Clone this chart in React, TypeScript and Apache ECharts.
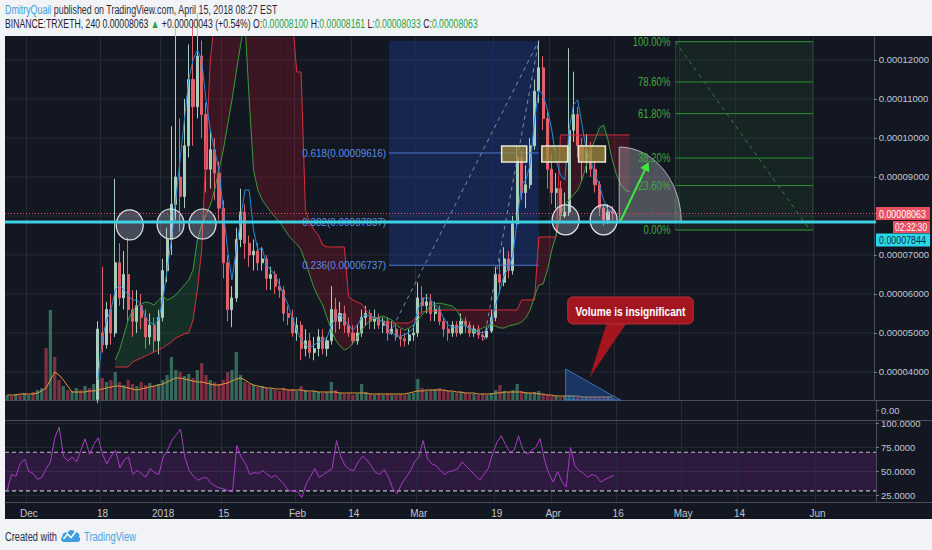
import React, { useEffect, useRef } from 'react';
import * as echarts from 'echarts';

// ---------- categories & ticks ----------
const DAY_COUNT = 201; // 2017-11-26 .. 2018-06-13
const DAY_MS = 86400000;
const T0 = Date.UTC(2017, 10, 26);
const categories: string[] = Array.from({ length: DAY_COUNT }, (_, i) => new Date(T0 + i * DAY_MS).toISOString().slice(0, 10));

const tickDates = ['2017-12-01', '2017-12-18', '2018-01-01', '2018-01-15', '2018-02-01', '2018-02-14', '2018-03-01', '2018-03-19', '2018-04-01', '2018-04-16', '2018-05-01', '2018-05-14', '2018-06-01'];
const tickLabels = ['Dec', '18', '2018', '15', 'Feb', '14', 'Mar', '19', 'Apr', '16', 'May', '14', 'Jun'];
const priceGridTicks = [4000, 5000, 6000, 7000, 8000, 9000, 10000, 11000, 12000]; // 1e-8 ETH
const priceLabelTicks = [4000, 5000, 6000, 7000, 9000, 10000, 11000, 12000]; // 8000 hidden under last-price tag
const rsiTicks = [25, 50, 75, 100];

// ---------- price data (units of 1e-8 ETH), [open, close, low, high] ----------
const CANDLE_START = '2017-12-17';
const candles: number[][] = [
  // Dec 17 - 31
  [3300, 5100, 3200, 5300], [5000, 4700, 4500, 6700], [4700, 5600, 4600, 5800], [5600, 5000, 4700, 6000],
  [5000, 6800, 4900, 8950], [6800, 5900, 5700, 7300], [5900, 6500, 5600, 7100], [6500, 5600, 5300, 7450],
  [5600, 5300, 4900, 6100], [5300, 5700, 5000, 6100], [5700, 5400, 5100, 6000], [5400, 4900, 4600, 5600],
  [4900, 5200, 4700, 5500], [5200, 4800, 4500, 5400], [4800, 5400, 4450, 5600],
  // Jan
  [5400, 6600, 5300, 6900], [6600, 7400, 6300, 7700], [7400, 8300, 7000, 10300], [8300, 9000, 7900, 12900],
  [9000, 8500, 7600, 10500], [8500, 9800, 8200, 11000], [9800, 11500, 9500, 12400], [11500, 10800, 9800, 13000],
  [10800, 12100, 10500, 13200], [12100, 10600, 10000, 12500], [10600, 9200, 8600, 10900], [9200, 9700, 8700, 10200],
  [9700, 9100, 8400, 10000], [9100, 8200, 7900, 9400], [8200, 6800, 6400, 8400], [6800, 5600, 5300, 7000],
  [5600, 5900, 5150, 6200], [5900, 7400, 5800, 7700], [7400, 8100, 7200, 8700], [8100, 7300, 6900, 8300],
  [7300, 7000, 6700, 7500], [7000, 7100, 6600, 7400], [7100, 6800, 6600, 7300], [6800, 6900, 6600, 7200],
  [6900, 6400, 6100, 7000], [6400, 6500, 6100, 6700], [6500, 6200, 6000, 6600], [6200, 6100, 5900, 6400],
  [6100, 5500, 5300, 6200], [5500, 5400, 5200, 5700], [5400, 5000, 4900, 5600],
  // Feb
  [5000, 5200, 4800, 5400], [5200, 4600, 4300, 5300], [4600, 4800, 4400, 5100], [4800, 4500, 4350, 5000],
  [4500, 4600, 4300, 4900], [4600, 4900, 4400, 5100], [4900, 4600, 4450, 5100], [4600, 4800, 4400, 4900],
  [4800, 5600, 4700, 6200], [5600, 5300, 5000, 5900], [5300, 5500, 5100, 5800], [5500, 5200, 5000, 5700],
  [5200, 5000, 4900, 5400], [5000, 4800, 4700, 5200], [4800, 5000, 4700, 5200], [5000, 5400, 4900, 5600],
  [5400, 5500, 5200, 5700], [5500, 5300, 5100, 5600], [5300, 5400, 5100, 5600], [5400, 5200, 5100, 5500],
  [5200, 5300, 5000, 5400], [5300, 5000, 4800, 5400], [5000, 5100, 4958, 5300], [5100, 4900, 4800, 5200],
  [4900, 4850, 4650, 5100], [4850, 4800, 4650, 5000], [4800, 4950, 4700, 5100], [4950, 5000, 4800, 5200],
  // Mar
  [5000, 5900, 4900, 6300], [5900, 5700, 5500, 6200], [5700, 5800, 5500, 6000], [5800, 5500, 5300, 6000],
  [5500, 5600, 5300, 5800], [5600, 5300, 5200, 5700], [5300, 5100, 4900, 5400], [5100, 5000, 4800, 5300],
  [5000, 5200, 4900, 5300], [5200, 5000, 4900, 5300], [5000, 5300, 4950, 5500], [5300, 5200, 5000, 5400],
  [5200, 5000, 4900, 5300], [5000, 5100, 4900, 5200], [5100, 4950, 4850, 5200], [4950, 4900, 4800, 5050],
  [4900, 5050, 4850, 5150], [5050, 5400, 5000, 5600], [5400, 6500, 5300, 6700], [6500, 6300, 6000, 6900],
  [6300, 6900, 6200, 7200], [6900, 6600, 6400, 7100], [6600, 7800, 6500, 8000], [7800, 9500, 7700, 9800],
  [9500, 8600, 8400, 9700], [8600, 8800, 8200, 9300], [8800, 9800, 8700, 10000], [9800, 11200, 9700, 11500],
  [11200, 11800, 10900, 12495], [11800, 10500, 10200, 12100], [10500, 9200, 8700, 10700],
  // Apr 1 - 15
  [9200, 8600, 8300, 9600], [8600, 8700, 8200, 9100], [8700, 8000, 7900, 8900], [8000, 8100, 7950, 8600],
  [8100, 10200, 8000, 12300], [10200, 10600, 9900, 11700], [10600, 9800, 9500, 10800], [9800, 9400, 8900, 10000],
  [9400, 9700, 9100, 10100], [9700, 9200, 9000, 9900], [9200, 8800, 8600, 9400], [8800, 8200, 8000, 8900],
  [8200, 7900, 7750, 8300], [7900, 8100, 7800, 8300], [8100, 8063, 7900, 8250],
];

// ---------- volume (arbitrary units, from 2017-11-26) ----------
const volumes = [
  5, 4, 6, 5, 7,
  5, 8, 10, 12, 52, 90, 43, 20, 14, 10,
  9, 12, 10, 14, 12, 16, 30, 22, 18, 20,
  28, 18, 15, 20, 16, 14, 18, 15, 17, 14, 16,
  20, 25, 43, 30, 28, 24, 26, 22, 30, 37,
  25, 20, 18, 16, 20, 28, 30, 48, 25, 18,
  16, 15, 13, 14, 12, 11, 10, 9, 12, 10, 11,
  9, 14, 10, 8, 9, 8, 7, 8, 18, 10,
  7, 6, 6, 5, 6, 16, 8, 6, 5, 6,
  5, 6, 5, 5, 6, 5, 6, 7,
  21, 12, 9, 10, 11, 12, 10, 9, 8, 7,
  8, 7, 6, 6, 5, 6, 5, 7, 10, 15,
  9, 8, 10, 16, 9, 8, 7, 8, 9, 6, 5,
  4, 4, 3, 4, 5, 4, 3, 3, 3, 3, 3, 3, 3, 3, 2,
];
const preVolumeUp = [1, 0, 1, 0, 1, 1, 0, 1, 1, 0, 1, 0, 0, 1, 0, 1, 1, 0, 1, 0, 1];
const volumeMA = [
  5, 5, 5, 6, 6,
  6, 6, 7, 9, 12, 20, 28, 25, 20, 14,
  8, 8, 8, 8, 9, 9, 10, 11, 12, 13,
  14, 14, 13, 12, 11, 10, 11, 12, 13, 14, 15,
  16, 18, 20, 22, 22, 21, 20, 19, 18, 18,
  17, 16, 15, 15, 16, 17, 19, 21, 22, 20,
  17, 15, 14, 13, 12, 12, 11, 11, 11, 10, 10,
  10, 10, 9, 9, 9, 8, 8, 8, 8, 8,
  7, 7, 7, 7, 7, 7, 7, 6, 6, 6,
  6, 6, 6, 6, 6, 6, 7, 8,
  9, 9, 10, 10, 10, 10, 10, 9, 9, 8,
  8, 7, 7, 7, 6, 6, 6, 6, 7, 7,
  8, 8, 8, 8, 8, 7, 7, 7, 6, 6, 5,
  5, 4, 4, 4, 4, 4, 4, 3, 3, 3, 3, 3, 3, 3, 3,
];

// ---------- RSI (from 2017-11-26) ----------
const rsi = [
  30, 47, 45, 58, 63,
  50, 48, 42, 44, 53, 60, 85, 96, 66, 61,
  65, 60, 72, 84, 68, 78, 85, 68, 58, 66,
  72, 54, 62, 65, 47, 51, 48, 44, 53, 49, 47,
  65, 72, 82, 88, 94, 65, 51, 45, 41, 43,
  44, 38, 35, 33, 32, 30, 29, 77, 65, 58,
  47, 49, 48, 51, 47, 44, 46, 41, 36, 30, 30,
  29, 23, 37, 45, 53, 44, 47, 50, 53, 82,
  65, 56, 52, 51, 60, 66, 62, 56, 49, 47,
  52, 44, 32, 27, 37, 44, 50, 60,
  65, 82, 63, 58, 56, 51, 47, 50, 51, 53,
  60, 55, 51, 46, 41, 47, 53, 68, 80, 87,
  78, 70, 72, 87, 73, 68, 72, 75, 84, 62, 48,
  39, 50, 40, 34, 75, 56, 51, 48, 44, 47, 45, 39, 42, 44, 46,
];

// ---------- Ichimoku-style lines (1e-8 ETH) ----------
const CLOUD_START = '2017-12-21';
const leadA = [
  4308, 4564, 4949, 5333, 5590, 5692, 5744, 5795, 5769, 5718, 5846,
  5948, 5846, 5897, 5974, 6102, 6231, 6359, 6615, 7385, 7769, 8025, 8282, 8666, 9179, 9692, 10333, 10974, 11692, 12385, 13025,
  10974, 9179, 8666, 8410, 8256, 8102, 7974, 7846, 7692, 7513, 7385,
  7282, 7128, 6820, 6487, 6154, 5923, 5718, 5385, 5077, 4820, 4667, 4564, 4615, 4743, 4872, 5077, 5205, 5333, 5385, 5410,
  5436, 5385, 5333, 5205, 5128, 5077, 5128, 5205,
  5333, 5462, 5590, 5692, 5744, 5769, 5744, 5718, 5692, 5590, 5385, 5205, 5077, 5026, 5077, 5128, 5180, 5205, 5180, 5128,
  5128, 5180, 5205, 5231, 5282, 5385, 5590, 5948, 6231, 6256, 6615,
  7128, 7513, 8025, 8282, 8410, 8538, 8666, 8923, 9307, 9692, 9948, 10256, 10333, 9948, 9436, 9051, 8795, 8666, 8615,
];
const leadB = [
  4128, 4128, 4128, 4128, 4256, 4308, 4359, 4410, 4461, 4513, 4564,
  4615, 4692, 4769, 4872, 4923, 4974, 5000, 5333, 6102, 7128, 9692, 12000,
  13025, 13025, 13025, 13025, 13025, 13025, 13025, 13025, 13025, 13025, 13025, 13025, 13025, 13025, 13025, 13025, 13025, 13025, 13025,
  11692, 11692, 8154, 7846, 7641, 7513, 7256, 7205, 7205, 7205, 7205, 7205,
  5923, 5846, 5795, 5744, 5590, 5462, 5385, 5333, 5282, 5256, 5256, 5256, 5256, 5256, 5256, 5333,
  5462, 5539, 5564, 5564, 5564, 5564,
  5590, 5590, 5590, 5590, 5590, 5590, 5590, 5590, 5590, 5590, 5590, 5590, 5590, 5590, 5590, 5590, 5590, 5590,
  5846, 5846, 5846, 5846, 7461, 7461, 7461, 7461, 7461,
  10077, 10077, 10077, 10077, 10077, 10077, 10077, 10077, 10077, 10077, 10077, 10077, 10077, 10077, 10077, 10077, 10077,
];
const CONV_START = '2017-12-17';
const conversion = [
  3795, 4820, 5333, 5590, 6102, 6231, 6102, 5974, 5846, 5846, 5718, 5385, 5282, 5205, 5333,
  5846, 6615, 7385, 8410, 9436, 10462, 11487, 12000, 12256, 12000, 10974, 10205, 9692, 9179, 8154, 7128,
  6359, 7128, 7897, 8666, 8666, 7641, 7128, 7179, 6744, 6615, 6487, 6231, 5974, 5718, 5385,
  5077, 4820, 4692, 4615, 4692, 4769, 4820, 4872, 5205, 5385, 5462, 5333, 5205, 5077, 5205, 5385,
  5462, 5436, 5385, 5333, 5282, 5128, 5000, 4923, 4923, 4949, 5026, 5128,
  5590, 5846, 5923, 5846, 5718, 5590, 5385, 5205, 5154, 5128, 5205, 5180, 5128, 5077, 5026, 5000,
  5077, 5282, 5718, 6102, 6487, 6667, 7000, 7897, 8795, 8923, 9307, 10462, 11231, 11102, 10718,
  10205, 9436, 9051, 8923, 10205, 10846, 10974, 10333, 9692, 9436, 9051, 8795, 8410, 8154, 8102,
];

// ---------- levels & annotations (day index from 2017-11-26, price in 1e-8) ----------
const lastPrice = 8063;
const supportLevel = 7844;
const fibLow = 4958;
const fibHigh = 12495;
const fibLevels = [0.236, 0.382, 0.618];
const fibSpan = [88.35, 123];
const fibExtLow = 7640;
const fibExtHigh = 12470;
const fibExtLevels = [0, 0.236, 0.382, 0.618, 0.786, 1];
const fibExtSpan = [154.6, 186.4];
const circledLows = [[28.35, 7770], [37.8, 7795], [45.2, 7795], [129.2, 7900], [138, 7900]];
const resistanceBoxes = [[114.4, 120.2], [123.7, 129.7], [132.2, 138.4]];
const resistanceBand = [9385, 9795];

const FONT = "'Liberation Sans', Arial, sans-serif";
const BG = '#131722';
const GRID_C = '#262b38';
const SEP_C = '#4a4e5a';
const TXT_C = '#c3c6ce';
const UP = '#a9cdbb';
const DOWN = '#e0606c';

const idxOf = (d: string) => categories.indexOf(d);
const tickSet = new Set(tickDates);
const tickMap: Record<string, string> = {};
tickDates.forEach((d, i) => { tickMap[d] = tickLabels[i]; });

echarts.graphic.registerShape(
  'tvCloud',
  echarts.graphic.extendPath('M4 15 C1 15 0 11 2.5 9.5 C2 6 5.5 4.5 7.5 6 C8.5 2.5 13.5 1.5 15 5.5 C18 4.5 20.5 7.5 19 10 C21 11 20.5 15 17.5 15 Z', {})
);

let measureCtx: CanvasRenderingContext2D | null = null;
function measure(s: string, font: string) {
  if (!measureCtx) measureCtx = document.createElement('canvas').getContext('2d');
  if (!measureCtx) return s.length * 6;
  measureCtx.font = font;
  return measureCtx.measureText(s).width;
}

function xAxisFor(gridIndex: number, showLabel: boolean) {
  return {
    type: 'category',
    gridIndex,
    data: categories,
    boundaryGap: true,
    axisLine: { show: showLabel, lineStyle: { color: SEP_C } },
    axisTick: { show: false },
    splitLine: { show: true, interval: (_i: number, v: string) => tickSet.has(v), lineStyle: { color: GRID_C, width: 1 } },
    axisLabel: {
      show: showLabel,
      interval: (_i: number, v: string) => tickSet.has(v),
      formatter: (v: string) => tickMap[v] || '',
      color: TXT_C,
      fontSize: 10,
      fontFamily: FONT,
      margin: 6,
    },
  };
}

const sideAxisLabel = { color: TXT_C, fontSize: 9.5, fontFamily: FONT, margin: 5 };

function buildOption() {
  const cStart = idxOf(CANDLE_START);
  const clStart = idxOf(CLOUD_START);
  const cvStart = idxOf(CONV_START);
  const cloudData = leadA.slice(0, -1).map((a, k) => [clStart + k, a, leadB[k], leadA[k + 1], leadB[k + 1]]);
  const volData = volumes.map((v, i) => {
    const c = candles[i - cStart];
    const up = c ? c[1] >= c[0] : preVolumeUp[i] === 1;
    return { value: v, itemStyle: { color: up ? 'rgba(76,160,128,0.6)' : 'rgba(200,64,86,0.6)' } };
  });
  return {
    animation: false,
    backgroundColor: '#f1f3f7',
    grid: [
      { left: 5, top: 37, width: 871, height: 363 },
      { left: 5, top: 401, width: 871, height: 19 },
      { left: 5, top: 421, width: 871, height: 81 },
    ],
    xAxis: [xAxisFor(0, false), xAxisFor(1, false), xAxisFor(2, true)],
    yAxis: [
      {
        type: 'value', gridIndex: 0, position: 'right', min: 3282, max: 12589,
        splitLine: { show: false },
        axisLine: { show: true, lineStyle: { color: SEP_C } },
        axisTick: { show: true, customValues: priceLabelTicks, length: 3, lineStyle: { color: '#787b86' } },
        axisLabel: { ...sideAxisLabel, customValues: priceLabelTicks, formatter: (v: number) => (v / 1e8).toFixed(8) },
      },
      { type: 'value', gridIndex: 0, min: 0, max: 363, show: false },
      {
        type: 'value', gridIndex: 1, position: 'right', min: -1, max: 1,
        splitLine: { show: false },
        axisLine: { show: true, lineStyle: { color: SEP_C } },
        axisTick: { show: true, customValues: [0], length: 3, lineStyle: { color: '#787b86' } },
        axisLabel: { ...sideAxisLabel, customValues: [0], formatter: (v: number) => v.toFixed(2) },
      },
      {
        type: 'value', gridIndex: 2, position: 'right', min: 18.4, max: 102.4,
        splitLine: { show: false },
        axisLine: { show: true, lineStyle: { color: SEP_C } },
        axisTick: { show: true, customValues: rsiTicks, length: 3, lineStyle: { color: '#787b86' } },
        axisLabel: { ...sideAxisLabel, customValues: rsiTicks, formatter: (v: number) => v.toFixed(4) },
      },
    ],
    series: [
      {
        type: 'custom', name: 'cloud', xAxisIndex: 0, yAxisIndex: 0, clip: true, silent: true,
        data: cloudData,
        renderItem: (_p: any, api: any) => {
          const i = api.value(0);
          const a1 = api.value(1), b1 = api.value(2), a2 = api.value(3), b2 = api.value(4);
          const pts = [api.coord([i, a1]), api.coord([i + 1, a2]), api.coord([i + 1, b2]), api.coord([i, b1])];
          const green = a1 + a2 >= b1 + b2;
          return { type: 'polygon', shape: { points: pts }, style: { fill: green ? 'rgba(40,150,60,0.2)' : 'rgba(160,20,40,0.3)' } };
        },
      },
      {
        type: 'line', name: 'Lead B', xAxisIndex: 0, yAxisIndex: 0, showSymbol: false, symbol: 'none', silent: true,
        data: leadB.map((v, k) => [clStart + k, v]), lineStyle: { color: '#d8303a', width: 1 },
      },
      {
        type: 'line', name: 'Lead A', xAxisIndex: 0, yAxisIndex: 0, showSymbol: false, symbol: 'none', silent: true,
        data: leadA.map((v, k) => [clStart + k, v]), lineStyle: { color: '#3c9a3c', width: 1 },
      },
      {
        type: 'line', name: 'Conversion', xAxisIndex: 0, yAxisIndex: 0, showSymbol: false, symbol: 'none', silent: true,
        data: conversion.map((v, k) => [cvStart + k, v]), lineStyle: { color: '#2a8ad8', width: 1 },
      },
      {
        type: 'bar', name: 'Volume', xAxisIndex: 0, yAxisIndex: 1, barWidth: '75%', silent: true, data: volData,
      },
      {
        type: 'line', name: 'Volume MA', xAxisIndex: 0, yAxisIndex: 1, showSymbol: false, symbol: 'none', silent: true,
        data: volumeMA, lineStyle: { color: '#e8993a', width: 1 },
      },
      {
        type: 'candlestick', name: 'TRXETH', xAxisIndex: 0, yAxisIndex: 0, barWidth: '60%', silent: true,
        data: candles.map((c, k) => [cStart + k, c[0], c[1], c[2], c[3]]),
        encode: { x: 0, y: [1, 2, 3, 4] },
        itemStyle: { color: UP, color0: DOWN, borderColor: UP, borderColor0: DOWN, borderWidth: 1 },
      },
      {
        type: 'line', name: 'RSI', xAxisIndex: 2, yAxisIndex: 3, showSymbol: false, symbol: 'none', silent: true,
        data: rsi, lineStyle: { color: '#a83ec4', width: 1 }, z: 5,
      },
    ],
  };
}

function buildGraphics(chart: any) {
  const xa = chart.convertToPixel({ xAxisIndex: 0 }, 0) as number;
  const xb = chart.convertToPixel({ xAxisIndex: 0 }, 100) as number;
  const xp = (i: number) => xa + ((xb - xa) * i) / 100;
  const yp = (v: number) => chart.convertToPixel({ yAxisIndex: 0 }, v) as number;
  const yvol = (v: number) => chart.convertToPixel({ yAxisIndex: 1 }, v) as number;
  const yr = (v: number) => chart.convertToPixel({ yAxisIndex: 3 }, v) as number;
  const L = 5, R = 876;
  const els: any[] = [];
  // text helper; width = target rendered width (narrow look via horizontal scale about the anchor)
  const txt = (x: number, y: number, text: string, fill: string, size: number, align = 'left', weight = 'normal', z = 20, width = 0) => {
    const font = `${weight} ${size}px ${FONT}`;
    const sx = width > 0 ? Math.min(1, width / measure(text, font)) : 1;
    return {
      type: 'text', x, y, z, silent: true, scaleX: sx,
      style: { x: 0, y: 0, text, fill, font, textAlign: align, textVerticalAlign: 'middle' },
    };
  };
  const ln = (x1: number, y1: number, x2: number, y2: number, stroke: string, lineWidth = 1, dash: any = null, z = 10) => ({
    type: 'line', z, silent: true, shape: { x1, y1, x2, y2 }, style: { stroke, lineWidth, lineDash: dash },
  });

  // panel background
  els.push({ type: 'rect', z: -10, silent: true, shape: { x: 5, y: 36, width: 927, height: 483 }, style: { fill: BG } });
  // horizontal grid lines
  priceGridTicks.forEach((v) => els.push(ln(L, yp(v), R, yp(v), GRID_C, 1, null, -5)));
  rsiTicks.forEach((v) => els.push(ln(L, yr(v), R, yr(v), GRID_C, 1, null, -5)));
  // pane separators
  [400.5, 420.5, 502.5].forEach((y) => els.push(ln(5, y, 932, y, SEP_C, 1, null, 1)));

  // RSI band
  els.push({ type: 'rect', z: -4, silent: true, shape: { x: L, y: yr(70), width: R - L, height: yr(30) - yr(70) }, style: { fill: 'rgba(150,40,175,0.2)' } });
  els.push(ln(L, yr(70), R, yr(70), '#b9bcc6', 1.2, [4, 3], 3));
  els.push(ln(L, yr(30), R, yr(30), '#b9bcc6', 1.2, [4, 3], 3));

  // Fibonacci retracement
  const fx1 = xp(fibSpan[0]), fx2 = xp(fibSpan[1]);
  const fibVal = (l: number) => fibLow + l * (fibHigh - fibLow);
  els.push({ type: 'rect', z: -3, silent: true, shape: { x: fx1, y: yp(fibHigh), width: fx2 - fx1, height: yp(fibVal(0.236)) - yp(fibHigh) }, style: { fill: 'rgba(41,98,255,0.2)' } });
  fibLevels.forEach((l) => {
    const v = fibVal(l);
    els.push(ln(fx1, yp(v), fx2, yp(v), '#4a78d0', 1, null, 4));
    els.push(txt(fx1 - 3, yp(v), `${l}(${(v / 1e8).toFixed(8)})`, '#5b8de6', 11, 'right', 'normal', 9, 84));
  });
  els.push(ln(fx1, yp(fibLow), fx2, yp(fibHigh), 'rgba(140,165,220,0.8)', 1, [4, 4], 4));
  els.push(ln(xp(110.3), yp(4820), fx2, yp(fibHigh), 'rgba(140,165,220,0.8)', 1, [4, 4], 4));

  // resistance boxes
  resistanceBoxes.forEach(([a, b]) => {
    els.push({ type: 'rect', z: 11, silent: true, shape: { x: xp(a), y: yp(resistanceBand[1]), width: xp(b) - xp(a), height: yp(resistanceBand[0]) - yp(resistanceBand[1]) }, style: { fill: 'rgba(160,140,60,0.75)', stroke: '#ecead2', lineWidth: 1.5 } });
  });

  // circled lows
  circledLows.forEach(([i, v]) => {
    els.push({ type: 'ellipse', z: 11, silent: true, shape: { cx: xp(i), cy: yp(v), rx: 13.5, ry: 15 }, style: { fill: 'rgba(200,210,230,0.28)', stroke: '#e2e7f0', lineWidth: 1.2 } });
  });

  // price lines
  els.push(ln(L, yp(lastPrice), R, yp(lastPrice), '#e8505f', 1, [1, 2], 12));
  els.push(ln(L, yp(supportLevel), R, yp(supportLevel), '#3cd0e2', 3, null, 12));

  // fib extension box (right)
  const ex1 = xp(fibExtSpan[0]), ex2 = xp(fibExtSpan[1]);
  const ey0 = yp(fibExtLow), ey1 = yp(fibExtHigh);
  els.push({ type: 'rect', z: -3, silent: true, shape: { x: ex1, y: ey1, width: ex2 - ex1, height: ey0 - ey1 }, style: { fill: 'rgba(46,140,50,0.12)', stroke: 'rgba(60,140,60,0.35)', lineWidth: 1 } });
  fibExtLevels.forEach((l) => {
    const y = yp(fibExtLow + l * (fibExtHigh - fibExtLow));
    const label = `${(l * 100).toFixed(2)}%`;
    els.push(ln(ex1, y, ex2, y, '#2f8f2f', 1, null, 4));
    els.push(txt(ex1 - 5, y, label, '#3daa3d', 12, 'right', 'normal', 9, label.length * 5.4));
  });
  els.push(ln(ex1, ey1, ex2 - 3, ey0, '#3a7a3a', 1, [4, 4], 4));

  // quarter arc
  const scx = xp(141.6), scy = yp(supportLevel);
  const arcPts: number[][] = [[scx, scy]];
  for (let k = 0; k <= 24; k++) {
    const t = -Math.PI / 2 + ((Math.PI / 2) * k) / 24;
    arcPts.push([scx + 62 * Math.cos(t), scy + 75 * Math.sin(t)]);
  }
  els.push({ type: 'polygon', z: 8, silent: true, shape: { points: arcPts }, style: { fill: 'rgba(200,200,205,0.33)', stroke: 'rgba(225,225,230,0.7)', lineWidth: 1 } });

  // green arrow
  const ax1 = xp(141.9), ay1 = yp(7871), ax2 = xp(148.4), ay2 = yp(9385);
  const ang = Math.atan2(ay2 - ay1, ax2 - ax1);
  const hl = 9, hw = 5;
  const bx = ax2 - hl * Math.cos(ang), by = ay2 - hl * Math.sin(ang);
  els.push(ln(ax1, ay1, bx, by, '#3ee83e', 2, null, 13));
  els.push({ type: 'polygon', z: 13, silent: true, shape: { points: [[ax2, ay2], [bx + hw * Math.sin(ang), by - hw * Math.cos(ang)], [bx - hw * Math.sin(ang), by + hw * Math.cos(ang)]] }, style: { fill: '#3ee83e' } });

  // callout
  const cbx1 = xp(129.7), cbx2 = xp(158.7), cby1 = yp(5923), cby2 = yp(5231);
  els.push({ type: 'polygon', z: 14, silent: true, shape: { points: [[xp(138.7), cby2 - 1], [xp(143.3), cby2 - 1], [xp(134.7), yp(3846)]] }, style: { fill: '#a3151f' } });
  els.push({ type: 'rect', z: 14, silent: true, shape: { x: cbx1, y: cby1, width: cbx2 - cbx1, height: cby2 - cby1, r: 5 }, style: { fill: '#a3151f', stroke: '#b8323c', lineWidth: 1 } });
  els.push(txt((cbx1 + cbx2) / 2, (cby1 + cby2) / 2 + 0.5, 'Volume is insignificant', '#ffffff', 13, 'center', 'bold', 15, 110));

  // volume triangle
  els.push({ type: 'polygon', z: 9, silent: true, shape: { points: [[xp(129.2), yvol(31)], [xp(129.2), yvol(0)], [xp(141.9), yvol(0)]] }, style: { fill: 'rgba(33,110,220,0.35)', stroke: 'rgba(80,140,230,0.7)', lineWidth: 1 } });

  // right axis price tags
  const ly = yp(lastPrice);
  els.push({ type: 'rect', z: 20, silent: true, shape: { x: R, y: ly - 6.5, width: 54, height: 13 }, style: { fill: '#e8505f' } });
  els.push(txt(R + 3, ly + 0.5, (lastPrice / 1e8).toFixed(8), '#ffffff', 10.5, 'left', 'normal', 21, 47));
  els.push({ type: 'rect', z: 20, silent: true, shape: { x: R + 17, y: ly + 7.5, width: 37, height: 12 }, style: { fill: '#e8505f' } });
  els.push(txt(R + 51, ly + 14, '02:32:30', '#ffffff', 10.5, 'right', 'normal', 21, 32));
  els.push({ type: 'rect', z: 20, silent: true, shape: { x: R, y: ly + 20, width: 54, height: 13 }, style: { fill: '#2ad8ea' } });
  els.push(txt(R + 3, ly + 27, (supportLevel / 1e8).toFixed(8), '#10303a', 10.5, 'left', 'normal', 21, 47));

  // header
  const hFont = `normal 12px ${FONT}`;
  const line1 = 'DmitryQuail published on TradingView.com, April 15, 2018 08:27 EST';
  const line2 = 'BINANCE:TRXETH, 240 0.00008063 ▲ +0.00000043 (+0.54%) O:0.00008100 H:0.00008161 L:0.00008033 C:0.00008063';
  const s1 = Math.min(1, 273 / measure(line1, hFont));
  const s2 = Math.min(1, 473 / measure(line2, hFont));
  els.push({
    type: 'text', x: 5, y: 9, z: 30, silent: true, scaleX: s1,
    style: {
      x: 0, y: 0,
      text: '{u|DmitryQuail}{t| published on TradingView.com, April 15, 2018 08:27 EST}',
      textVerticalAlign: 'middle',
      rich: {
        u: { fill: '#3a9fd8', fontSize: 12, fontFamily: FONT },
        t: { fill: '#2a2e39', fontSize: 12, fontFamily: FONT },
      },
    },
  });
  els.push({
    type: 'text', x: 5, y: 24, z: 30, silent: true, scaleX: s2,
    style: {
      x: 0, y: 0,
      text: '{d|BINANCE:TRXETH, 240 0.00008063 }{g|▲}{d| +0.00000043 (+0.54%) O:}{g|0.00008100}{d| H:}{g|0.00008161}{d| L:}{g|0.00008033}{d| C:}{g|0.00008063}',
      textVerticalAlign: 'middle',
      rich: {
        d: { fill: '#1e222d', fontSize: 12, fontFamily: FONT },
        g: { fill: '#2e9e3e', fontSize: 12, fontFamily: FONT },
      },
    },
  });

  // footer
  els.push(txt(5, 536, 'Created with', '#2a2e39', 12.5, 'left', 'normal', 30, 52));
  els.push({ type: 'tvCloud', x: 60, y: 527, scaleX: 1, scaleY: 1, z: 30, silent: true, style: { fill: '#3d9fe0' } });
  els.push({ type: 'polyline', z: 31, silent: true, shape: { points: [[63.5, 539], [67.5, 534], [71, 537.5], [75.5, 532]] }, style: { stroke: '#ffffff', lineWidth: 1.6, fill: 'none' } });
  els.push(txt(84, 536, 'TradingView', '#4aa3df', 13, 'left', 'normal', 30, 52));

  return els;
}

export default function App() {
  const ref = useRef<HTMLDivElement>(null);
  useEffect(() => {
    document.body.style.margin = '0';
    const chart = echarts.init(ref.current as HTMLDivElement, null, { renderer: 'svg' });
    chart.setOption(buildOption() as any);
    chart.setOption({ graphic: { elements: buildGraphics(chart) } } as any);
    return () => chart.dispose();
  }, []);
  return <div ref={ref} style={{ width: 932, height: 550 }} />;
}
